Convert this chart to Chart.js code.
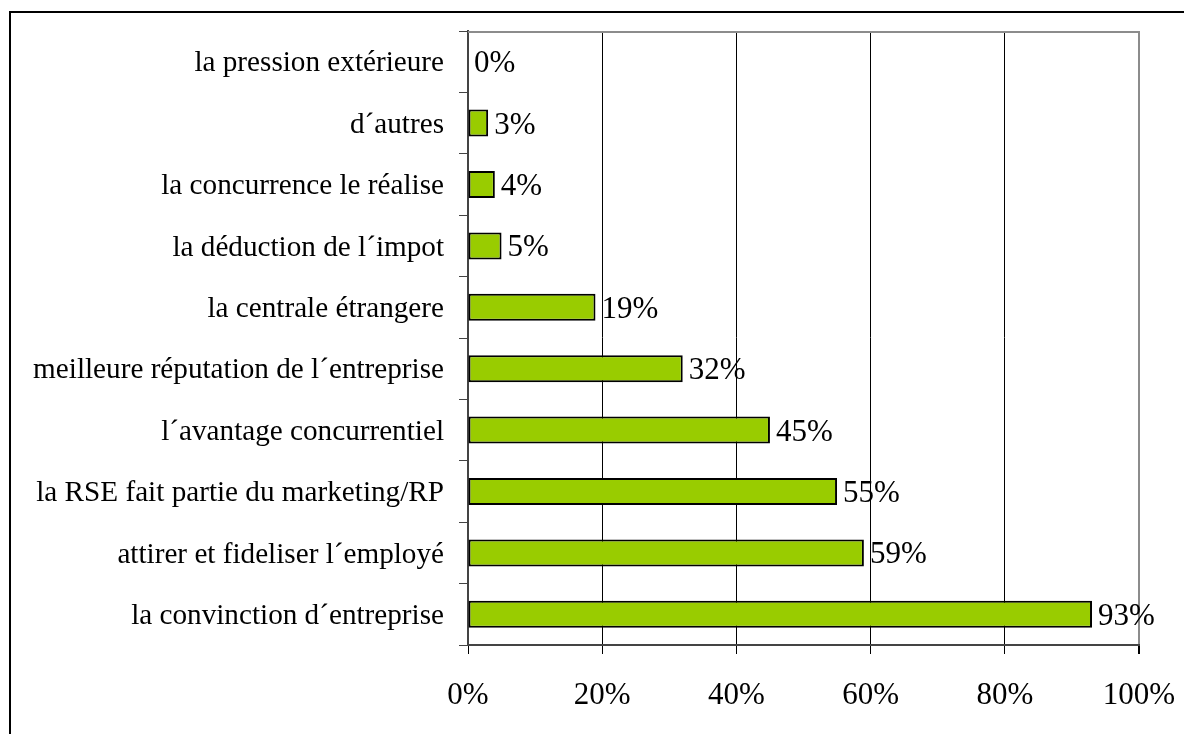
<!DOCTYPE html>
<html>
<head>
<meta charset="utf-8">
<script src="https://cdn.jsdelivr.net/npm/chart.js@4.4.0/dist/chart.umd.min.js"></script>
<style>
html,body{margin:0;padding:0;background:#fff;}
canvas{display:block;}
</style>
</head>
<body>
<canvas id="c" width="1184" height="734"></canvas>
<script>
const categories = [
  'la pression extérieure',
  'd´autres',
  'la concurrence le réalise',
  'la déduction de l´impot',
  'la centrale étrangere',
  'meilleure réputation de l´entreprise',
  'l´avantage concurrentiel',
  'la RSE fait partie du marketing/RP',
  'attirer et fideliser l´employé',
  'la convinction d´entreprise'
];
const values = [0, 3, 4, 5, 19, 32, 45, 55, 59, 93];
const xTicks = [0, 20, 40, 60, 80, 100];

const FONT = 'Liberation Serif';

const framePlugin = {
  id: 'frame',
  beforeDraw(chart) {
    const ctx = chart.ctx;
    ctx.save();
    ctx.fillStyle = '#fff';
    ctx.fillRect(0, 0, chart.width, chart.height);
    ctx.strokeStyle = '#000';
    ctx.lineWidth = 2;
    ctx.strokeRect(10, 12, 1400, 1000);
    ctx.restore();
  },
  afterDatasetsDraw(chart) {
    const ctx = chart.ctx;
    const a = chart.chartArea;
    ctx.save();
    ctx.strokeStyle = '#8c8c8c';
    ctx.lineWidth = 2;
    ctx.beginPath();
    ctx.moveTo(a.left, a.top + 1);
    ctx.lineTo(a.right + 1, a.top + 1);
    ctx.stroke();
    // data labels
    const meta = chart.getDatasetMeta(0);
    ctx.fillStyle = '#000';
    ctx.font = '31px "' + FONT + '"';
    ctx.textAlign = 'left';
    ctx.textBaseline = 'alphabetic';
    meta.data.forEach((bar, i) => {
      ctx.fillText(values[i] + '%', bar.x + 6, bar.y + 10.5);
    });
    ctx.restore();
  }
};

new Chart(document.getElementById('c'), {
  type: 'bar',
  data: {
    labels: categories,
    datasets: [{
      data: values,
      backgroundColor: '#99CC00',
      borderColor: '#000',
      borderWidth: 2,
      borderSkipped: false,
      barPercentage: 0.44,
      categoryPercentage: 1
    }]
  },
  options: {
    indexAxis: 'y',
    responsive: false,
    animation: false,
    events: [],
    layout: { padding: { top: 31, right: 45, left: 0, bottom: 0 } },
    plugins: { legend: { display: false }, tooltip: { enabled: false } },
    scales: {
      x: {
        min: 0, max: 100,
        afterBuildTicks(scale) { scale.ticks = xTicks.map(v => ({ value: v })); },
        afterFit(scale) { scale.height = 89; scale.paddingLeft = 0; scale.paddingRight = 0; },
        ticks: {
          callback: v => v + '%',
          color: '#000',
          font: { family: FONT, size: 31 },
          padding: 23,
          maxRotation: 0
        },
        grid: {
          drawOnChartArea: true,
          color: c => (c.tick && c.tick.value === 100) ? '#8c8c8c' : '#000',
          lineWidth: c => (c.tick && c.tick.value === 100) ? 2 : 1,
          tickColor: '#000',
          tickLength: 9
        },
        border: { display: true, color: '#444', width: 2 }
      },
      y: {
        afterFit(scale) { scale.width = 468; scale.paddingTop = 0; scale.paddingBottom = 0; },
        ticks: {
          color: '#000',
          font: { family: FONT, size: 29.2 },
          padding: 15,
          labelOffset: 2,
          autoSkip: false
        },
        grid: {
          drawOnChartArea: false,
          offset: true,
          tickColor: '#444',
          tickLength: 9,
          tickWidth: 1
        },
        border: { display: true, color: '#444', width: 2 }
      }
    }
  },
  plugins: [framePlugin]
});
</script>
</body>
</html>
